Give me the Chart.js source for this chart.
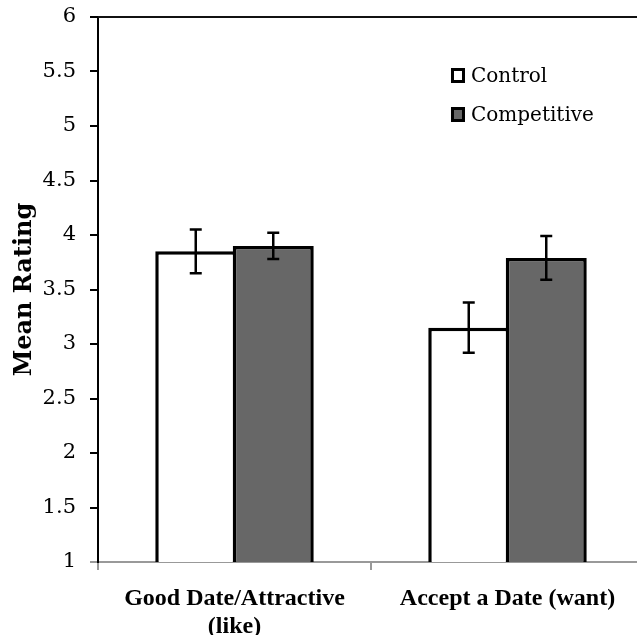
<!DOCTYPE html>
<html>
<head>
<meta charset="utf-8">
<script src="https://cdn.jsdelivr.net/npm/chart.js@4"></script>
<style>
  html, body { margin: 0; padding: 0; background: #fff; overflow: hidden; }
  #wrap { width: 637px; height: 635px; overflow: hidden; }
</style>
</head>
<body>
<div id="wrap"><canvas id="c" width="650" height="635"></canvas></div>
<script>
const categories = [["Good Date/Attractive", "(like)"], "Accept a Date (want)"];
const seriesNames = ["Control", "Competitive"];
const controlValues = [3.85, 3.15];
const competitiveValues = [3.90, 3.79];
const controlErrors = [0.20, 0.23];
const competitiveErrors = [0.12, 0.20];
const yMin = 1, yMax = 6, yStep = 0.5;

const errorBarPlugin = {
  id: 'errorBars',
  afterDatasetsDraw(chart) {
    const ctx = chart.ctx;
    const y = chart.scales.y;
    chart.data.datasets.forEach((ds, i) => {
      const meta = chart.getDatasetMeta(i);
      meta.data.forEach((bar, j) => {
        const v = ds.data[j], e = ds.errors[j];
        const yHi = y.getPixelForValue(v + e);
        const yLo = y.getPixelForValue(v - e);
        const x = bar.x;
        ctx.save();
        ctx.strokeStyle = '#000';
        ctx.lineWidth = 2.5;
        ctx.beginPath();
        ctx.moveTo(x, yHi); ctx.lineTo(x, yLo);
        ctx.moveTo(x - 6, yHi); ctx.lineTo(x + 6, yHi);
        ctx.moveTo(x - 6, yLo); ctx.lineTo(x + 6, yLo);
        ctx.stroke();
        ctx.restore();
      });
    });
  }
};

const frameLegendPlugin = {
  id: 'frameLegend',
  afterDraw(chart) {
    const ctx = chart.ctx;
    const a = chart.chartArea;
    ctx.save();
    ctx.strokeStyle = '#111';
    ctx.lineWidth = 2;
    ctx.beginPath();
    ctx.moveTo(a.left, a.top);
    ctx.lineTo(chart.width, a.top);
    ctx.stroke();
    const lx = a.left + (a.right - a.left) * 0.6465;
    const ly = a.top + 51;
    chart.data.datasets.forEach((ds, i) => {
      const by = ly + i * 39;
      ctx.fillStyle = ds.backgroundColor;
      ctx.fillRect(lx, by, 14, 15);
      ctx.strokeStyle = '#000';
      ctx.lineWidth = 3;
      ctx.strokeRect(lx + 1.5, by + 1.5, 11, 12);
      ctx.fillStyle = '#000';
      ctx.font = '20px "DejaVu Serif"';
      ctx.textBaseline = 'middle';
      ctx.textAlign = 'left';
      ctx.fillText(ds.label, lx + 20, by + 9);
    });
    ctx.restore();
  }
};

new Chart(document.getElementById('c'), {
  type: 'bar',
  data: {
    labels: categories,
    datasets: [
      { label: seriesNames[0], data: controlValues, errors: controlErrors,
        backgroundColor: '#ffffff', borderColor: '#000', borderWidth: 3.5, borderSkipped: false },
      { label: seriesNames[1], data: competitiveValues, errors: competitiveErrors,
        backgroundColor: '#676767', borderColor: '#000', borderWidth: 3.5, borderSkipped: false }
    ]
  },
  options: {
    responsive: false,
    animation: false,
    devicePixelRatio: 1,
    layout: { padding: { top: 17, right: 6, left: 0, bottom: 0 } },
    datasets: { bar: { categoryPercentage: 0.5678, barPercentage: 1.045 } },
    plugins: { legend: { display: false }, tooltip: { enabled: false } },
    scales: {
      x: {
        afterFit(s) { s.height = 73; s.paddingLeft = 0; s.paddingRight = 0; },
        grid: { offset: true, drawOnChartArea: false, drawTicks: true, tickLength: 8, color: '#999', lineWidth: 2 },
        border: { display: true, color: '#999', width: 2 },
        ticks: { color: '#000', padding: 15, maxRotation: 0, autoSkip: false,
          font: { family: '"Liberation Serif"', size: 24, weight: 'bold', lineHeight: 1.15 } }
      },
      y: {
        min: yMin, max: yMax,
        afterFit(s) { s.width = 98; s.paddingTop = 0; s.paddingBottom = 0; },
        grid: { drawOnChartArea: false, drawTicks: true, tickLength: 8,
          color: c => (c.tick && c.tick.value === yMin) ? '#999' : '#000', lineWidth: 2 },
        border: { display: true, color: '#000', width: 2 },
        ticks: { stepSize: yStep, color: '#000', padding: 14,
          callback: v => String(v),
          font: { family: '"DejaVu Serif"', size: 21 } },
        title: { display: true, text: 'Mean Rating', color: '#000',
          padding: { top: 10, bottom: 0 },
          font: { family: '"DejaVu Serif"', size: 24, weight: 'bold' } }
      }
    }
  },
  plugins: [errorBarPlugin, frameLegendPlugin]
});
</script>
</body>
</html>
